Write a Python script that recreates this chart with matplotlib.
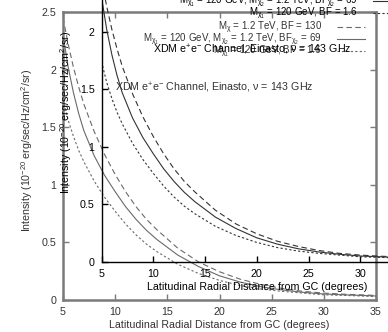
import matplotlib
matplotlib.use("Agg")
import matplotlib.pyplot as plt

plt.rcParams['font.family'] = ['Liberation Sans', 'DejaVu Sans']
plt.rcParams['mathtext.fontset'] = 'custom'
plt.rcParams['mathtext.rm'] = 'Liberation Sans'
plt.rcParams['mathtext.it'] = 'Liberation Sans'
plt.rcParams['mathtext.bf'] = 'Liberation Sans:bold'

# latitude (degrees) and intensity (1e-20 erg/sec/Hz/cm^2/sr)
lat = [5, 5.5, 6, 6.5, 7, 8, 9, 10, 11, 12, 13, 14, 16, 18, 20, 22, 24, 26, 28, 30, 32, 35]
i_bf130 = [2.45, 2.22, 2.02, 1.85, 1.70, 1.46, 1.26, 1.09, 0.94, 0.81, 0.70, 0.61,
           0.45, 0.33, 0.245, 0.18, 0.135, 0.10, 0.075, 0.06, 0.05, 0.04]
i_bf69 = [2.30, 2.02, 1.80, 1.62, 1.47, 1.25, 1.08, 0.94, 0.81, 0.70, 0.605, 0.525,
          0.39, 0.29, 0.21, 0.155, 0.115, 0.087, 0.067, 0.052, 0.045, 0.035]
i_bf16 = [1.74, 1.56, 1.42, 1.30, 1.20, 1.03, 0.89, 0.77, 0.66, 0.565, 0.485, 0.42,
          0.31, 0.23, 0.17, 0.125, 0.095, 0.075, 0.06, 0.045, 0.04, 0.03]

labels = [r'M$_{\chi}$ = 1.2 TeV, BF = 130',
          r'M$_{\chi_1}$ = 120 GeV, M$_{\chi_2}$ = 1.2 TeV, BF$_{\chi_2}$ = 69',
          r'M$_{\chi_1}$ = 120 GeV, BF = 1.6']
title = r'XDM e$^{+}$e$^{-}$ Channel, Einasto, ν = 143 GHz'
xticks = [5, 10, 15, 20, 25, 30, 35]
yticks = [0, 0.5, 1, 1.5, 2, 2.5]
FS = 7.7
LFS = 7.0

W, H = 388, 332
fig = plt.figure(figsize=(W / 100, H / 100), dpi=100)


def panel(rect, fg, linec, spine_lw, text_c):
    ax = fig.add_axes(rect)
    ax.patch.set_alpha(0)
    styles = [(0, (5, 3)), '-', (0, (2, 2))]
    series = [i_bf130, i_bf69, i_bf16]
    handles = []
    for s, ls in zip(series, styles):
        ln, = ax.plot(lat, s, color=linec, lw=0.8, linestyle=ls)
        handles.append(ln)
    ax.set_xlim(5, 35)
    ax.set_ylim(0, 2.5)
    ax.set_xticks(xticks)
    ax.set_yticks(yticks)
    ax.set_yticklabels(['0', '0.5', '1', '1.5', '2', '2.5'])
    ax.tick_params(direction='in', length=4, width=1, color=fg, labelcolor=text_c,
                   labelsize=FS, top=True, right=True)
    ax.tick_params(axis='x', pad=5)
    ax.tick_params(axis='y', pad=5)
    for sp in ax.spines.values():
        sp.set_color(fg)
        sp.set_linewidth(spine_lw)
    ax.set_xlabel('Latitudinal Radial Distance from GC (degrees)', fontsize=FS,
                  color=text_c, labelpad=2)
    ax.set_ylabel(r'Intensity (10$^{-20}$ erg/sec/Hz/cm$^2$/sr)', fontsize=FS,
                  color=text_c)
    ax.yaxis.set_label_coords(-0.09, 0.52)
    leg = ax.legend(handles, labels, loc='upper right', bbox_to_anchor=(0.965, 0.973),
                    frameon=False, markerfirst=False, fontsize=LFS, handlelength=2.9,
                    handletextpad=1.55, labelspacing=-0.45, borderpad=0,
                    borderaxespad=0)
    for t in leg.get_texts():
        t.set_color(text_c)
    ax.text(0.165, 0.735, title, transform=ax.transAxes, fontsize=FS, color=text_c,
            va='center')
    return ax


back = panel([63 / W, 32 / H, 313 / W, 288 / H], '#7a7a7a', '#6a6a6a', 1.8, '#333333')
front = panel([101.5 / W, 70 / H, 310.5 / W, 288 / H], 'black', '#333333', 1.0, 'black')

fig.savefig('out.png', dpi=100)
